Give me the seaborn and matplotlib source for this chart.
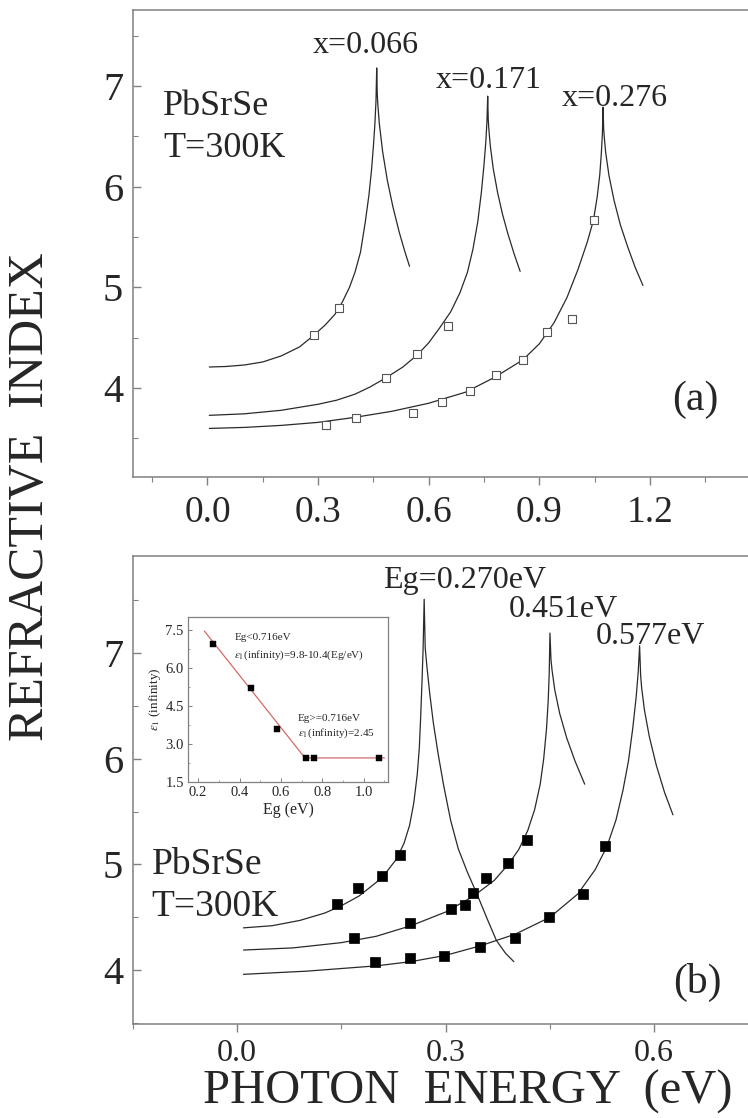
import matplotlib
matplotlib.use("Agg")
import matplotlib.pyplot as plt
import seaborn as sns
from matplotlib.ticker import MultipleLocator, FormatStrFormatter

# -------------------- DATA: panel (a), PbSrSe, x dependence --------------------
a_curve1_E = [0.005, 0.05, 0.10, 0.15, 0.20, 0.25, 0.29, 0.32, 0.345, 0.365, 0.385, 0.40,
              0.415, 0.428, 0.438, 0.445, 0.450, 0.454, 0.457, 0.459,
              0.4605, 0.462, 0.466, 0.475, 0.488, 0.503, 0.52, 0.535, 0.548]
a_curve1_n = [4.21, 4.215, 4.23, 4.26, 4.32, 4.41, 4.53, 4.63, 4.73, 4.85, 5.00, 5.15,
              5.35, 5.65, 5.92, 6.17, 6.40, 6.62, 6.85, 7.18,
              6.92, 6.82, 6.63, 6.35, 6.06, 5.80, 5.55, 5.36, 5.21]

a_curve2_E = [0.005, 0.10, 0.20, 0.30, 0.35, 0.40, 0.44, 0.483, 0.53, 0.569, 0.60, 0.63,
              0.66, 0.685, 0.705, 0.72, 0.733, 0.743, 0.750, 0.755, 0.758, 0.760,
              0.7615, 0.763, 0.767, 0.775, 0.787, 0.80, 0.815, 0.832, 0.848]
a_curve2_n = [3.73, 3.745, 3.78, 3.84, 3.88, 3.94, 4.01, 4.10, 4.21, 4.33, 4.45, 4.60,
              4.76, 4.95, 5.15, 5.38, 5.65, 5.95, 6.22, 6.45, 6.65, 6.90,
              6.67, 6.58, 6.41, 6.18, 5.94, 5.73, 5.53, 5.33, 5.16]

a_curve3_E = [0.005, 0.10, 0.20, 0.30, 0.40, 0.50, 0.60, 0.70, 0.78, 0.855, 0.90, 0.94,
              0.975, 1.005, 1.03, 1.047, 1.057, 1.064, 1.068, 1.071, 1.073,
              1.0745, 1.076, 1.080, 1.089, 1.103, 1.120, 1.140, 1.160, 1.181]
a_curve3_n = [3.60, 3.61, 3.63, 3.66, 3.71, 3.77, 3.85, 3.96, 4.11, 4.28, 4.44, 4.65,
              4.90, 5.18, 5.45, 5.67, 5.90, 6.12, 6.32, 6.52, 6.79,
              6.58, 6.50, 6.34, 6.11, 5.86, 5.62, 5.40, 5.20, 5.02]

a_pts_E = [0.289, 0.358,
           0.483, 0.569, 0.653,
           0.321, 0.402, 0.558, 0.635, 0.713, 0.783, 0.855, 0.921, 0.988, 1.047]
a_pts_n = [4.53, 4.80,
           4.10, 4.34, 4.62,
           3.63, 3.70, 3.75, 3.86, 3.97, 4.13, 4.28, 4.56, 4.69, 5.67]

a_labels = ["x=0.066", "x=0.171", "x=0.276"]
a_label_E = [0.430, 0.763, 1.106]
a_label_n = [7.40, 7.06, 6.88]

# -------------------- DATA: panel (b), Eg dependence --------------------
b_curve1_E = [0.009, 0.05, 0.09, 0.126, 0.15, 0.175, 0.20, 0.215, 0.229, 0.240, 0.248,
              0.254, 0.259, 0.262, 0.264, 0.266, 0.2675, 0.269,
              0.2705, 0.273, 0.277, 0.282, 0.289, 0.297, 0.307, 0.318, 0.331, 0.345,
              0.360, 0.373, 0.386, 0.398]
b_curve1_n = [4.40, 4.42, 4.47, 4.54, 4.61, 4.70, 4.83, 4.93, 5.05, 5.20, 5.37,
              5.58, 5.85, 6.10, 6.40, 6.75, 7.05, 7.51,
              7.05, 6.87, 6.62, 6.35, 6.05, 5.75, 5.42, 5.15, 4.93, 4.72,
              4.48, 4.28, 4.16, 4.08]

b_curve2_E = [0.009, 0.08, 0.15, 0.20, 0.25, 0.30, 0.34, 0.37, 0.39, 0.405, 0.418, 0.428,
              0.436, 0.441, 0.445, 0.4475, 0.449, 0.450,
              0.4515, 0.453, 0.457, 0.464, 0.474, 0.486, 0.500]
b_curve2_n = [4.19, 4.21, 4.26, 4.32, 4.42, 4.55, 4.70, 4.85, 5.00, 5.14, 5.32, 5.52,
              5.76, 6.00, 6.28, 6.55, 6.82, 7.19,
              6.94, 6.84, 6.65, 6.43, 6.20, 5.98, 5.76]

b_curve3_E = [0.009, 0.10, 0.20, 0.25, 0.30, 0.35, 0.40, 0.45, 0.49, 0.515, 0.532, 0.545,
              0.555, 0.563, 0.569, 0.574, 0.577, 0.579,
              0.5805, 0.582, 0.586, 0.593, 0.603, 0.615, 0.627]
b_curve3_n = [3.96, 3.99, 4.04, 4.08, 4.14, 4.23, 4.34, 4.50, 4.72, 4.95, 5.17, 5.42,
              5.70, 5.98, 6.28, 6.58, 6.82, 7.07,
              6.79, 6.67, 6.46, 6.21, 5.94, 5.68, 5.47]

b_pts_E = [0.144, 0.174, 0.208, 0.234,
           0.168, 0.248, 0.308, 0.328, 0.339, 0.358, 0.389, 0.417,
           0.198, 0.248, 0.298, 0.349, 0.399, 0.449, 0.498, 0.529]
b_pts_n = [4.63, 4.78, 4.89, 5.09,
           4.30, 4.45, 4.58, 4.62, 4.73, 4.87, 5.01, 5.23,
           4.08, 4.11, 4.13, 4.22, 4.30, 4.50, 4.72, 5.17]

b_labels = ["Eg=0.270eV", "0.451eV", "0.577eV"]
b_label_E = [0.327, 0.469, 0.595]
b_label_n = [7.69, 7.41, 7.16]

# -------------------- DATA: inset --------------------
inset_Eg = [0.27, 0.455, 0.58, 0.72, 0.76, 1.075]
inset_eps = [6.95, 5.20, 3.60, 2.45, 2.45, 2.45]
fit_Eg = [0.23, 0.716, 1.10]
fit_eps = [7.45, 2.45, 2.45]

# -------------------- STYLE --------------------
sns.set_theme(style="white")
plt.rcParams["font.family"] = ["Liberation Serif", "DejaVu Serif"]
plt.rcParams["mathtext.fontset"] = "stix"

SPINE = "#808080"
LINE = "#2a2a2a"


def style_main(ax, ytick_size, xtick_size, xpad):
    for side in ["top", "left", "bottom"]:
        ax.spines[side].set_color(SPINE)
        ax.spines[side].set_linewidth(1.1)
    ax.spines["right"].set_visible(False)
    ax.yaxis.set_major_locator(MultipleLocator(1))
    ax.yaxis.set_minor_locator(MultipleLocator(0.5))
    ax.xaxis.set_major_locator(MultipleLocator(0.3))
    ax.xaxis.set_minor_locator(MultipleLocator(0.15))
    ax.xaxis.set_major_formatter(FormatStrFormatter("%.1f"))
    ax.tick_params(axis="y", which="both", direction="in", left=True, color=SPINE,
                   labelsize=ytick_size, pad=7)
    ax.tick_params(axis="y", which="major", length=6, width=1)
    ax.tick_params(axis="y", which="minor", length=3.5, width=0.8)
    ax.tick_params(axis="x", which="both", direction="out", bottom=True, color=SPINE,
                   labelsize=xtick_size, pad=xpad)
    ax.tick_params(axis="x", which="major", length=6, width=1)
    ax.tick_params(axis="x", which="minor", length=3.5, width=0.8)
    ax.set_xlabel("")
    ax.set_ylabel("")


fig = plt.figure(figsize=(7.48, 11.18), dpi=100)

# -------------------- PANEL (a) --------------------
ax1 = fig.add_axes([0.1778, 0.5733, 0.8222, 0.4177])
for E, n in [(a_curve1_E, a_curve1_n), (a_curve2_E, a_curve2_n), (a_curve3_E, a_curve3_n)]:
    sns.lineplot(x=E, y=n, ax=ax1, sort=False, estimator=None, color=LINE, lw=0.9)
sns.scatterplot(x=a_pts_E, y=a_pts_n, ax=ax1, marker="s", s=38, facecolor="white",
                edgecolor="#555555", linewidth=0.8, zorder=3)
for txt, e, n in zip(a_labels, a_label_E, a_label_n):
    ax1.text(e, n, txt, ha="center", va="center", fontsize=23)
ax1.text(-0.12, 6.80, "PbSrSe", ha="left", va="center", fontsize=26)
ax1.text(-0.12, 6.38, "T=300K", ha="left", va="center", fontsize=26)
ax1.text(1.322, 3.88, "(a)", ha="center", va="center", fontsize=30)
ax1.set_xlim(-0.202, 1.466)
ax1.set_ylim(3.117, 7.755)
style_main(ax1, 29, 27, 7)

# -------------------- PANEL (b) --------------------
ax2 = fig.add_axes([0.1778, 0.0841, 0.8222, 0.4186])
for E, n in [(b_curve1_E, b_curve1_n), (b_curve2_E, b_curve2_n), (b_curve3_E, b_curve3_n)]:
    sns.lineplot(x=E, y=n, ax=ax2, sort=False, estimator=None, color=LINE, lw=0.9)
sns.scatterplot(x=b_pts_E, y=b_pts_n, ax=ax2, marker="s", s=48, color="black",
                edgecolor="black", linewidth=0.5, zorder=3)
for txt, e, n in zip(b_labels, b_label_E, b_label_n):
    ax2.text(e, n, txt, ha="center", va="center", fontsize=23)
ax2.text(-0.123, 5.00, "PbSrSe", ha="left", va="center", fontsize=27)
ax2.text(-0.123, 4.60, "T=300K", ha="left", va="center", fontsize=27)
ax2.text(0.662, 3.88, "(b)", ha="center", va="center", fontsize=30)
ax2.set_xlim(-0.150, 0.735)
ax2.set_ylim(3.49, 7.92)
style_main(ax2, 29, 23, 5)

# -------------------- INSET --------------------
ins = fig.add_axes([0.2513, 0.3005, 0.2674, 0.1476])
ins.set_facecolor("white")
sns.lineplot(x=fit_Eg, y=fit_eps, ax=ins, sort=False, estimator=None, color="#d46a6a", lw=0.9)
sns.scatterplot(x=inset_Eg, y=inset_eps, ax=ins, marker="s", s=20, color="black",
                edgecolor="black", linewidth=0.3, zorder=3)
ins.set_xlim(0.151, 1.117)
ins.set_ylim(1.5, 8.0)
ins.xaxis.set_major_locator(MultipleLocator(0.2))
ins.xaxis.set_minor_locator(MultipleLocator(0.1))
ins.yaxis.set_major_locator(MultipleLocator(1.5))
ins.yaxis.set_minor_locator(MultipleLocator(0.75))
ins.xaxis.set_major_formatter(FormatStrFormatter("%.1f"))
ins.yaxis.set_major_formatter(FormatStrFormatter("%.1f"))
for side in ins.spines.values():
    side.set_color(SPINE)
    side.set_linewidth(0.9)
ins.tick_params(which="both", direction="in", color=SPINE, labelsize=10.5, pad=3,
                bottom=True, left=True)
ins.tick_params(which="major", length=3, width=0.7)
ins.tick_params(which="minor", length=1.5, width=0.5)
ins.set_xlabel("Eg (eV)", fontsize=11.5, labelpad=2)
ins.set_ylabel(r"$\epsilon_1$ (infinity)", fontsize=9.5, labelpad=2)
ins.text(0.375, 7.18, "Eg<0.716eV", fontsize=8, ha="left", va="center")
ins.text(0.375, 6.51, r"$\epsilon_1$(infinity)=9.8-10.4(Eg/eV)", fontsize=8,
         ha="left", va="center")
ins.text(0.682, 4.01, "Eg>=0.716eV", fontsize=8, ha="left", va="center")
ins.text(0.682, 3.43, r"$\epsilon_1$(infinity)=2.45", fontsize=8, ha="left", va="center")

# -------------------- SHARED AXIS TITLES --------------------
fig.text(31 / 748, 1 - 497 / 1118, "REFRACTIVE  INDEX", rotation=90,
         ha="center", va="center", fontsize=36)
fig.text(468 / 748, 1 - 1092 / 1118, "PHOTON  ENERGY  (eV)",
         ha="center", va="center", fontsize=35)

fig.savefig("out.png", dpi=100)
